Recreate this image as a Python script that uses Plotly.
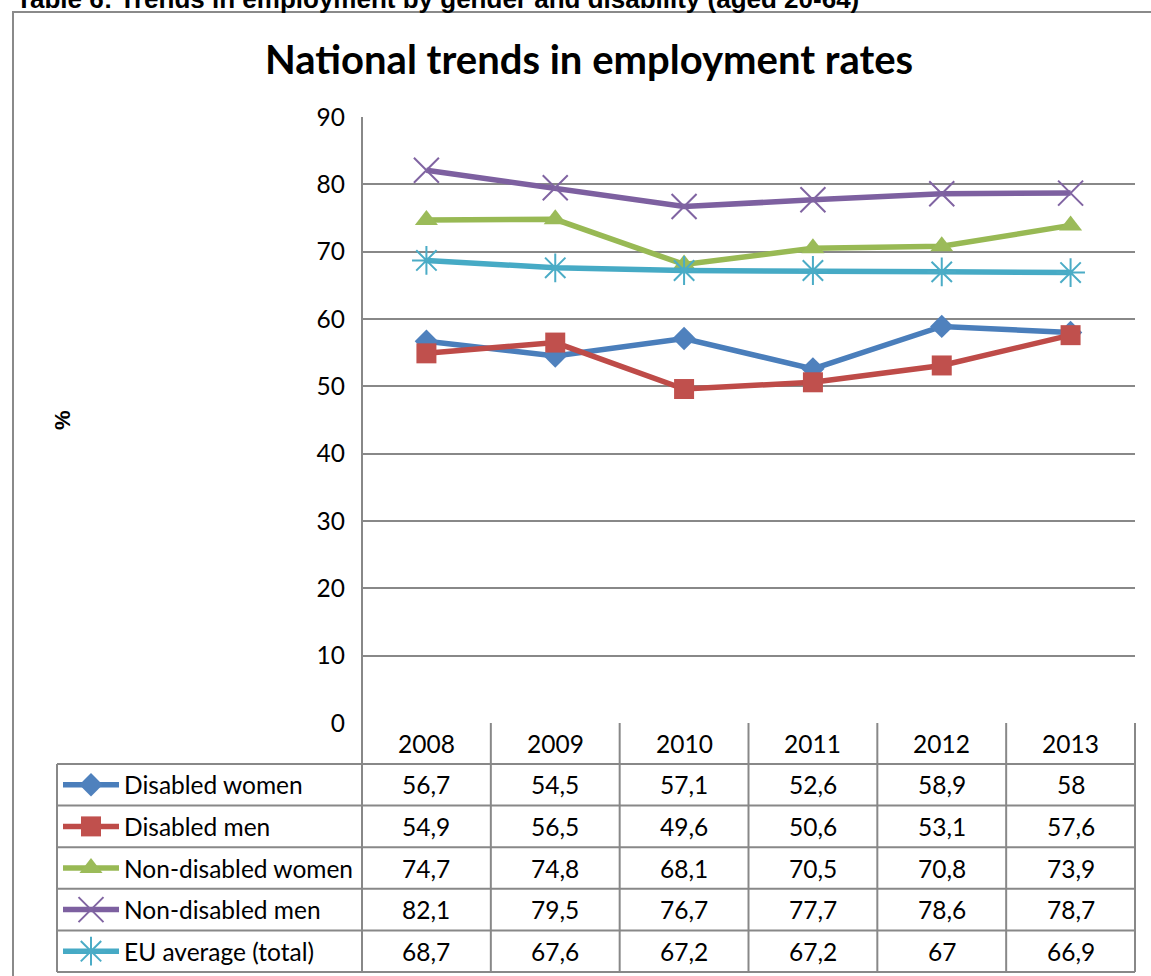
import plotly.graph_objects as go

# ---- data ----
years = ["2008", "2009", "2010", "2011", "2012", "2013"]
series_names = ["Disabled women", "Disabled men", "Non-disabled women",
                "Non-disabled men", "EU average (total)"]
disabled_women = [56.7, 54.5, 57.1, 52.6, 58.9, 58.0]
disabled_men = [54.9, 56.5, 49.6, 50.6, 53.1, 57.6]
nondisabled_women = [74.7, 74.8, 68.1, 70.5, 70.8, 73.9]
nondisabled_men = [82.1, 79.5, 76.7, 77.7, 78.6, 78.7]
eu_average = [68.7, 67.6, 67.2, 67.2, 67.0, 66.9]
y_ticks = [0, 10, 20, 30, 40, 50, 60, 70, 80, 90]

series_values = [disabled_women, disabled_men, nondisabled_women,
                 nondisabled_men, eu_average]

# ---- styling ----
line_colors = ["#4A7EBB", "#BE4B48", "#98B954", "#7D60A0", "#46AAC5"]
marker_colors = ["#4F81BD", "#C0504D", "#9BBB59", "#8064A2", "#4BACC6"]
symbols = ["diamond", "square", "triangle-up", "x-thin", "asterisk-open"]
marker_sizes = [18, 20, 20, 25, 24]
GRID = "#888888"
TXT_FONT = "Lato"
TXT_SIZE = 24.5

W, H = 1151, 976
# plot area (pixels)
PL, PR, PT, PB = 362, 1135, 117, 723
HEADER_BOTTOM = 764
ROW_H = 41.6
TABLE_LEFT = 57

col_w = (PR - PL) / len(years)


def col_center(i):
    return PL + (i + 0.5) * col_w


def col_edge(i):
    return PL + i * col_w


def row_center(k):
    return HEADER_BOTTOM + (k + 0.5) * ROW_H


def fmt(v):
    return f"{v:g}".replace(".", ",")


fig = go.Figure()

# ---- data lines ----
for name, vals, lc, mc, sym, ms in zip(series_names, series_values, line_colors,
                                       marker_colors, symbols, marker_sizes):
    thin = sym in ("x-thin", "asterisk-open")
    fig.add_trace(go.Scatter(
        x=years, y=vals, name=name, mode="lines+markers",
        line=dict(color=lc, width=5.5),
        marker=dict(symbol=sym, size=ms, color=mc,
                    line=dict(color=mc, width=2 if thin else 0)),
        xaxis="x", yaxis="y", showlegend=False, hoverinfo="skip"))

shapes = []
annotations = []

# ---- legend keys inside the data table ----
for k, (lc, mc, sym, ms) in enumerate(zip(line_colors, marker_colors, symbols, marker_sizes)):
    yc = row_center(k)
    thin = sym in ("x-thin", "asterisk-open")
    fig.add_trace(go.Scatter(
        x=[63, 119], y=[yc, yc], mode="lines",
        line=dict(color=lc, width=5.5),
        xaxis="x2", yaxis="y2", showlegend=False, hoverinfo="skip"))
    fig.add_trace(go.Scatter(
        x=[91], y=[yc], mode="markers",
        marker=dict(symbol=sym, size=ms, color=mc,
                    line=dict(color=mc, width=2 if thin else 0)),
        xaxis="x2", yaxis="y2", showlegend=False, hoverinfo="skip"))

# ---- table text ----
cell_font = dict(family=TXT_FONT, size=TXT_SIZE, color="black")
for i, yr in enumerate(years):
    annotations.append(dict(x=col_center(i), y=(PB + HEADER_BOTTOM) / 2, text=yr,
                            xref="x2", yref="y2", showarrow=False, font=cell_font))
for k, (name, vals) in enumerate(zip(series_names, series_values)):
    annotations.append(dict(x=122, y=row_center(k), text=name, xanchor="left",
                            xref="x2", yref="y2", showarrow=False, font=cell_font))
    for i, v in enumerate(vals):
        annotations.append(dict(x=col_center(i), y=row_center(k), text=fmt(v),
                                xref="x2", yref="y2", showarrow=False, font=cell_font))

# ---- table grid lines ----
line_style = dict(color=GRID, width=2)
n_rows = len(series_names)
table_bottom = HEADER_BOTTOM + n_rows * ROW_H
for k in range(n_rows + 1):
    y = HEADER_BOTTOM + k * ROW_H
    shapes.append(dict(type="line", xref="x2", yref="y2", x0=TABLE_LEFT, x1=PR,
                       y0=y, y1=y, line=line_style))
shapes.append(dict(type="line", xref="x2", yref="y2", x0=TABLE_LEFT, x1=TABLE_LEFT,
                   y0=HEADER_BOTTOM, y1=table_bottom, line=line_style))
shapes.append(dict(type="line", xref="x2", yref="y2", x0=PL, x1=PL,
                   y0=PT, y1=table_bottom, line=line_style))
for i in range(1, len(years) + 1):
    shapes.append(dict(type="line", xref="x2", yref="y2", x0=col_edge(i), x1=col_edge(i),
                       y0=PB, y1=table_bottom, line=line_style))

# ---- outer chart frame ----
shapes.append(dict(type="rect", xref="x2", yref="y2", x0=13, x1=W + 20,
                   y0=12, y1=H + 20, line=dict(color="#8a8a8a", width=2)))

# ---- titles ----
annotations.append(dict(x=589, y=59, text="<b>National trends in employment rates</b>",
                        xref="x2", yref="y2", showarrow=False, yanchor="middle",
                        font=dict(family=TXT_FONT, size=40, color="black")))
annotations.append(dict(x=14, y=1, yshift=2.5, xanchor="left", yanchor="middle",
                        text="<b>Table 6: Trends in employment by gender and disability (aged 20-64)</b>",
                        xref="x2", yref="y2", showarrow=False,
                        font=dict(family="Liberation Sans", size=26, color="black")))
annotations.append(dict(x=62, y=420, text="<b>%</b>", textangle=-90,
                        xref="x2", yref="y2", showarrow=False,
                        font=dict(family="Liberation Sans", size=22, color="black")))

fig.update_layout(
    width=W, height=H, autosize=False,
    margin=dict(l=0, r=0, t=0, b=0, pad=0, autoexpand=False),
    paper_bgcolor="white", plot_bgcolor="rgba(0,0,0,0)",
    xaxis=dict(domain=[PL / W, PR / W], type="category", range=[-0.5, len(years) - 0.5],
               showticklabels=False, showgrid=False, zeroline=False, showline=False,
               anchor="y", automargin=False),
    yaxis=dict(domain=[1 - PB / H, 1 - PT / H], range=[0, 90], tickvals=y_ticks,
               showgrid=True, gridcolor=GRID, gridwidth=2, zeroline=False,
               showline=False, ticks="", ticklabelstandoff=16, automargin=False,
               tickfont=dict(family=TXT_FONT, size=TXT_SIZE, color="black"), anchor="x"),
    xaxis2=dict(domain=[0, 1], range=[0, W], visible=False, anchor="y2",
                fixedrange=True, automargin=False),
    yaxis2=dict(domain=[0, 1], range=[H, 0], visible=False, anchor="x2",
                fixedrange=True, automargin=False),
    shapes=shapes,
    annotations=annotations,
)

fig.write_html("out.html")
